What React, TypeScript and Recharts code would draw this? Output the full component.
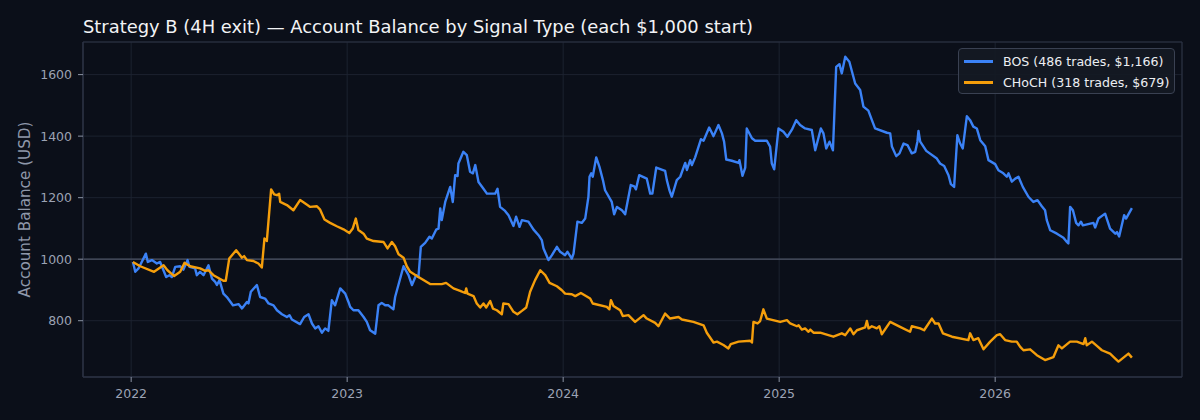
import React from "react";
import {
  LineChart,
  Line,
  XAxis,
  YAxis,
  CartesianGrid,
  ReferenceLine,
  ReferenceArea,
  Legend,
} from "recharts";

// ---- data (time in decimal years, balance in USD) ----
const BOS_T = [
  2022.008, 2022.019, 2022.034, 2022.068, 2022.077, 2022.096, 2022.119, 2022.134, 2022.162, 2022.177,
  2022.188, 2022.204, 2022.227, 2022.242, 2022.261, 2022.27, 2022.296, 2022.304, 2022.319, 2022.335,
  2022.358, 2022.374, 2022.389, 2022.397, 2022.409, 2022.427, 2022.443, 2022.471, 2022.497, 2022.513,
  2022.536, 2022.543, 2022.554, 2022.582, 2022.597, 2022.62, 2022.636, 2022.659, 2022.675, 2022.698,
  2022.721, 2022.733, 2022.744, 2022.782, 2022.801, 2022.821, 2022.837, 2022.852, 2022.867, 2022.883,
  2022.898, 2022.913, 2022.929, 2022.944, 2022.968, 2022.991, 2023.006, 2023.014, 2023.029, 2023.052,
  2023.076, 2023.091, 2023.106, 2023.13, 2023.145, 2023.16, 2023.176, 2023.191, 2023.214, 2023.222,
  2023.261, 2023.284, 2023.3, 2023.319, 2023.33, 2023.341, 2023.361, 2023.381, 2023.392, 2023.412,
  2023.423, 2023.431, 2023.438, 2023.454, 2023.477, 2023.489, 2023.5, 2023.511, 2023.515, 2023.538,
  2023.554, 2023.569, 2023.582, 2023.593, 2023.608, 2023.631, 2023.647, 2023.685, 2023.696, 2023.708,
  2023.731, 2023.747, 2023.77, 2023.782, 2023.798, 2023.809, 2023.839, 2023.863, 2023.886, 2023.901,
  2023.909, 2023.932, 2023.948, 2023.971, 2023.986, 2024.009, 2024.02, 2024.04, 2024.048, 2024.066,
  2024.086, 2024.102, 2024.117, 2024.122, 2024.13, 2024.137, 2024.153, 2024.168, 2024.184, 2024.194,
  2024.225, 2024.236, 2024.249, 2024.272, 2024.287, 2024.313, 2024.329, 2024.337, 2024.352, 2024.387,
  2024.403, 2024.413, 2024.431, 2024.472, 2024.48, 2024.492, 2024.503, 2024.526, 2024.542, 2024.565,
  2024.573, 2024.588, 2024.596, 2024.611, 2024.638, 2024.65, 2024.676, 2024.696, 2024.719, 2024.735,
  2024.745, 2024.755, 2024.781, 2024.812, 2024.816, 2024.83, 2024.843, 2024.85, 2024.874, 2024.889,
  2024.943, 2024.958, 2024.966, 2024.977, 2024.997, 2025.02, 2025.038, 2025.059, 2025.079, 2025.097,
  2025.12, 2025.151, 2025.167, 2025.193, 2025.205, 2025.218, 2025.233, 2025.249, 2025.264, 2025.279,
  2025.29, 2025.306, 2025.325, 2025.337, 2025.352, 2025.375, 2025.39, 2025.413, 2025.429, 2025.444,
  2025.499, 2025.514, 2025.522, 2025.542, 2025.557, 2025.576, 2025.594, 2025.614, 2025.63, 2025.64,
  2025.645, 2025.653, 2025.681, 2025.73, 2025.745, 2025.764, 2025.784, 2025.795, 2025.81, 2025.825,
  2025.838, 2025.85, 2025.869, 2025.884, 2025.899, 2025.915, 2025.931, 2025.954, 2025.969, 2026.0,
  2026.015, 2026.038, 2026.054, 2026.062, 2026.077, 2026.093, 2026.108, 2026.128, 2026.154, 2026.177,
  2026.196, 2026.216, 2026.231, 2026.239, 2026.255, 2026.286, 2026.316, 2026.332, 2026.339, 2026.347,
  2026.36, 2026.375, 2026.386, 2026.397, 2026.406, 2026.455, 2026.463, 2026.478, 2026.509, 2026.532,
  2026.556, 2026.564, 2026.574, 2026.597, 2026.606, 2026.633,
];
const BOS_V = [
  991, 959, 970, 1018, 991, 997, 986, 991, 942, 948,
  942, 975, 977, 966, 997, 975, 970, 948, 959, 948,
  980, 937, 926, 916, 932, 888, 877, 850, 854, 840,
  861, 856, 894, 916, 877, 872, 856, 850, 834, 821,
  812, 818, 804, 789, 812, 821, 791, 775, 782, 761,
  775, 767, 867, 850, 905, 888, 861, 845, 834, 834,
  812, 796, 769, 758, 850, 858, 850, 850, 837, 877,
  977, 948, 916, 948, 942, 1040, 1053, 1073, 1067, 1096,
  1099, 1165, 1127, 1186, 1235, 1186, 1273, 1270, 1311, 1349,
  1338, 1284, 1279, 1306, 1251, 1229, 1213, 1213, 1229, 1170,
  1157, 1143, 1108, 1138, 1105, 1127, 1122, 1096, 1078, 1062,
  1035, 997, 1013, 1040, 1024, 1013, 1024, 1002, 1018, 1122,
  1118, 1132, 1203, 1268, 1279, 1268, 1331, 1300, 1257, 1224,
  1186, 1146, 1170, 1159, 1146, 1241, 1237, 1227, 1273, 1262,
  1213, 1213, 1298, 1287, 1257, 1224, 1203, 1257, 1268, 1313,
  1290, 1322, 1306, 1331, 1390, 1385, 1428, 1400, 1436, 1409,
  1382, 1324, 1320, 1313, 1322, 1271, 1298, 1425, 1393, 1385,
  1385, 1366, 1311, 1292, 1425, 1414, 1398, 1421, 1452, 1436,
  1425, 1420, 1354, 1425, 1409, 1360, 1382, 1354, 1625, 1634,
  1604, 1658, 1642, 1610, 1571, 1550, 1496, 1483, 1453, 1425,
  1411, 1409, 1366, 1335, 1344, 1376, 1371, 1344, 1349, 1382,
  1417, 1382, 1352, 1327, 1311, 1303, 1273, 1244, 1235, 1403,
  1376, 1360, 1465, 1452, 1431, 1425, 1387, 1367, 1322, 1309,
  1289, 1279, 1268, 1279, 1252, 1262, 1268, 1235, 1203, 1186,
  1192, 1172, 1159, 1127, 1094, 1083, 1070, 1056, 1051, 1170,
  1159, 1118, 1110, 1122, 1110, 1118, 1103, 1132, 1148, 1099,
  1083, 1088, 1074, 1143, 1132, 1166,
];

const CHOCH_T = [
  2022.008, 2022.042, 2022.106, 2022.15, 2022.168, 2022.199, 2022.227, 2022.247, 2022.273, 2022.319,
  2022.343, 2022.358, 2022.381, 2022.427, 2022.438, 2022.454, 2022.486, 2022.513, 2022.523, 2022.536,
  2022.566, 2022.589, 2022.605, 2022.617, 2022.628, 2022.648, 2022.662, 2022.675, 2022.685, 2022.69,
  2022.721, 2022.751, 2022.782, 2022.806, 2022.829, 2022.86, 2022.875, 2022.895, 2022.921, 2022.952,
  2022.983, 2023.01, 2023.026, 2023.04, 2023.052, 2023.076, 2023.091, 2023.122, 2023.168, 2023.187,
  2023.207, 2023.222, 2023.238, 2023.261, 2023.276, 2023.292, 2023.33, 2023.384, 2023.438, 2023.458,
  2023.492, 2023.523, 2023.546, 2023.551, 2023.557, 2023.585, 2023.6, 2023.616, 2023.631, 2023.644,
  2023.662, 2023.675, 2023.693, 2023.716, 2023.723, 2023.747, 2023.77, 2023.788, 2023.809, 2023.829,
  2023.847, 2023.87, 2023.894, 2023.917, 2023.937, 2023.971, 2023.994, 2024.009, 2024.04, 2024.056,
  2024.082, 2024.125, 2024.137, 2024.202, 2024.214, 2024.221, 2024.233, 2024.264, 2024.276, 2024.302,
  2024.333, 2024.372, 2024.387, 2024.426, 2024.441, 2024.472, 2024.495, 2024.534, 2024.55, 2024.603,
  2024.65, 2024.665, 2024.696, 2024.712, 2024.742, 2024.765, 2024.776, 2024.812, 2024.866, 2024.874,
  2024.881, 2024.9, 2024.912, 2024.927, 2024.943, 2025.005, 2025.036, 2025.051, 2025.082, 2025.09,
  2025.105, 2025.12, 2025.136, 2025.144, 2025.159, 2025.19, 2025.251, 2025.29, 2025.306, 2025.329,
  2025.344, 2025.36, 2025.398, 2025.406, 2025.414, 2025.429, 2025.452, 2025.464, 2025.475, 2025.514,
  2025.56, 2025.606, 2025.614, 2025.653, 2025.671, 2025.707, 2025.722, 2025.738, 2025.758, 2025.8,
  2025.876, 2025.884, 2025.899, 2025.922, 2025.946, 2025.977, 2026.008, 2026.023, 2026.046, 2026.077,
  2026.1, 2026.116, 2026.131, 2026.162, 2026.193, 2026.231, 2026.27, 2026.293, 2026.309, 2026.347,
  2026.378, 2026.409, 2026.417, 2026.424, 2026.448, 2026.471, 2026.494, 2026.532, 2026.556, 2026.571,
  2026.617, 2026.633,
];
const CHOCH_V = [
  991, 977, 959, 980, 964, 945, 959, 988, 977, 970,
  962, 964, 948, 930, 930, 1002, 1029, 1005, 1010, 997,
  994, 986, 973, 1067, 1059, 1227, 1211, 1208, 1213, 1186,
  1176, 1159, 1192, 1181, 1170, 1172, 1161, 1129, 1118, 1107,
  1097, 1085, 1100, 1132, 1095, 1083, 1067, 1059, 1056, 1035,
  1056, 1042, 1016, 1005, 977, 959, 942, 919, 919, 923,
  905, 897, 890, 905, 888, 880, 856, 843, 856, 843,
  864, 839, 834, 821, 856, 854, 829, 821, 832, 843,
  894, 932, 964, 948, 923, 912, 899, 888, 886, 880,
  890, 872, 856, 845, 837, 867, 848, 834, 815, 818,
  796, 818, 807, 793, 782, 823, 807, 812, 804, 796,
  785, 761, 729, 732, 721, 710, 724, 732, 735, 729,
  796, 791, 799, 837, 807, 796, 802, 791, 782, 785,
  771, 775, 764, 771, 761, 761, 748, 759, 753, 775,
  756, 769, 778, 799, 775, 782, 775, 782, 756, 796,
  780, 764, 782, 775, 769, 807, 791, 791, 759, 748,
  737, 759, 737, 743, 707, 732, 753, 756, 737, 732,
  732, 715, 704, 707, 688, 672, 682, 720, 710, 732,
  732, 724, 743, 720, 732, 718, 704, 693, 677, 667,
  693, 680,
];

const YEAR_TICKS = [2022, 2023, 2024, 2025, 2026];
const BALANCE_TICKS = [800, 1000, 1200, 1400, 1600];
const START_BALANCE = 1000;

const SERIES = [
  { key: "bos", name: "BOS (486 trades, $1,166)", color: "#3b82f6", t: BOS_T, v: BOS_V },
  { key: "choch", name: "CHoCH (318 trades, $679)", color: "#f59e0b", t: CHOCH_T, v: CHOCH_V },
];

const TITLE = "Strategy B (4H exit) \u2014 Account Balance by Signal Type (each $1,000 start)";
const Y_LABEL = "Account Balance (USD)";

const X_DOMAIN: [number, number] = [2021.777, 2026.865];
const Y_DOMAIN: [number, number] = [617, 1706];

const BG = "#0b0f19";
const FONT = "'DejaVu Sans', sans-serif";
const TICK_COLOR = "#9ca3b4";
const GRID_COLOR = "#1e2432";
const SPINE_COLOR = "#2c3344";

const seriesData = SERIES.map((s) => ({
  ...s,
  data: s.t.map((t, i) => ({ t, v: s.v[i] })),
}));

function YLabel(props: any) {
  const vb = props.viewBox || { x: 0, y: 42, width: 83, height: 335 };
  const x = vb.x + 25;
  const y = vb.y + vb.height / 2;
  return (
    <text
      x={x}
      y={y}
      transform={`rotate(-90 ${x} ${y})`}
      textAnchor="middle"
      dominantBaseline="central"
      fill="#8f98aa"
      fontSize={15.2}
      fontFamily={FONT}
    >
      {Y_LABEL}
    </text>
  );
}

function LegendBox(props: any) {
  const payload = props.payload || [];
  return (
    <div
      style={{
        width: 217,
        height: 46,
        boxSizing: "border-box",
        background: "rgba(20,25,36,0.9)",
        border: "1px solid #3a4152",
        borderRadius: 4,
        padding: "2px 0 0 5px",
        fontFamily: FONT,
        fontSize: 12.6,
        color: "#eceef2",
      }}
    >
      {payload.map((p: any) => (
        <div key={p.value} style={{ display: "flex", alignItems: "center", height: 21 }}>
          <span
            style={{
              display: "inline-block",
              width: 29,
              height: 2.4,
              background: p.color,
              marginRight: 10,
            }}
          />
          <span style={{ whiteSpace: "nowrap" }}>{p.value}</span>
        </div>
      ))}
    </div>
  );
}

export default function App() {
  return (
    <div
      style={{
        position: "absolute",
        left: 0,
        top: 0,
        width: 1200,
        height: 420,
        background: BG,
        overflow: "hidden",
      }}
    >
      <svg
        width={1200}
        height={40}
        style={{ position: "absolute", left: 0, top: 0 }}
      >
        <text x={83} y={33} fill="#f2f3f5" fontSize={17.9} fontFamily={FONT}>
          {TITLE}
        </text>
      </svg>
      <LineChart
        width={1200}
        height={420}
        margin={{ top: 42, right: 18, bottom: 0, left: 0 }}
        style={{ position: "absolute", left: 0, top: 0 }}
      >
        <CartesianGrid stroke={GRID_COLOR} strokeWidth={0.9} />
        <XAxis
          type="number"
          dataKey="t"
          domain={X_DOMAIN}
          ticks={YEAR_TICKS}
          allowDataOverflow
          height={43}
          tickSize={5}
          tickMargin={7}
          tickFormatter={(v: number) => String(v)}
          tick={{ fill: TICK_COLOR, fontSize: 12.5, fontFamily: FONT }}
          tickLine={{ stroke: "#8a92a3" }}
          axisLine={{ stroke: SPINE_COLOR }}
        />
        <YAxis
          type="number"
          dataKey="v"
          domain={Y_DOMAIN}
          ticks={BALANCE_TICKS}
          allowDataOverflow
          width={83}
          tickSize={5}
          tickMargin={6}
          tick={{ fill: TICK_COLOR, fontSize: 12.5, fontFamily: FONT }}
          tickLine={{ stroke: "#8a92a3" }}
          axisLine={{ stroke: SPINE_COLOR }}
          label={<YLabel />}
        />
        <ReferenceArea
          x1={X_DOMAIN[0]}
          x2={X_DOMAIN[1]}
          y1={Y_DOMAIN[0]}
          y2={Y_DOMAIN[1]}
          fill="none"
          stroke={SPINE_COLOR}
          strokeWidth={1}
        />
        <ReferenceLine y={START_BALANCE} stroke="#4e5566" strokeWidth={1.3} />
        {seriesData.map((s) => (
          <Line
            key={s.key}
            data={s.data}
            dataKey="v"
            name={s.name}
            type="linear"
            stroke={s.color}
            strokeWidth={2.4}
            dot={false}
            activeDot={false}
            strokeLinejoin="round"
            isAnimationActive={false}
          />
        ))}
        <Legend
          layout="vertical"
          align="center"
          verticalAlign="middle"
          content={<LegendBox />}
          wrapperStyle={{ top: 48, left: 958, width: 217, height: 46 }}
        />
      </LineChart>
    </div>
  );
}
